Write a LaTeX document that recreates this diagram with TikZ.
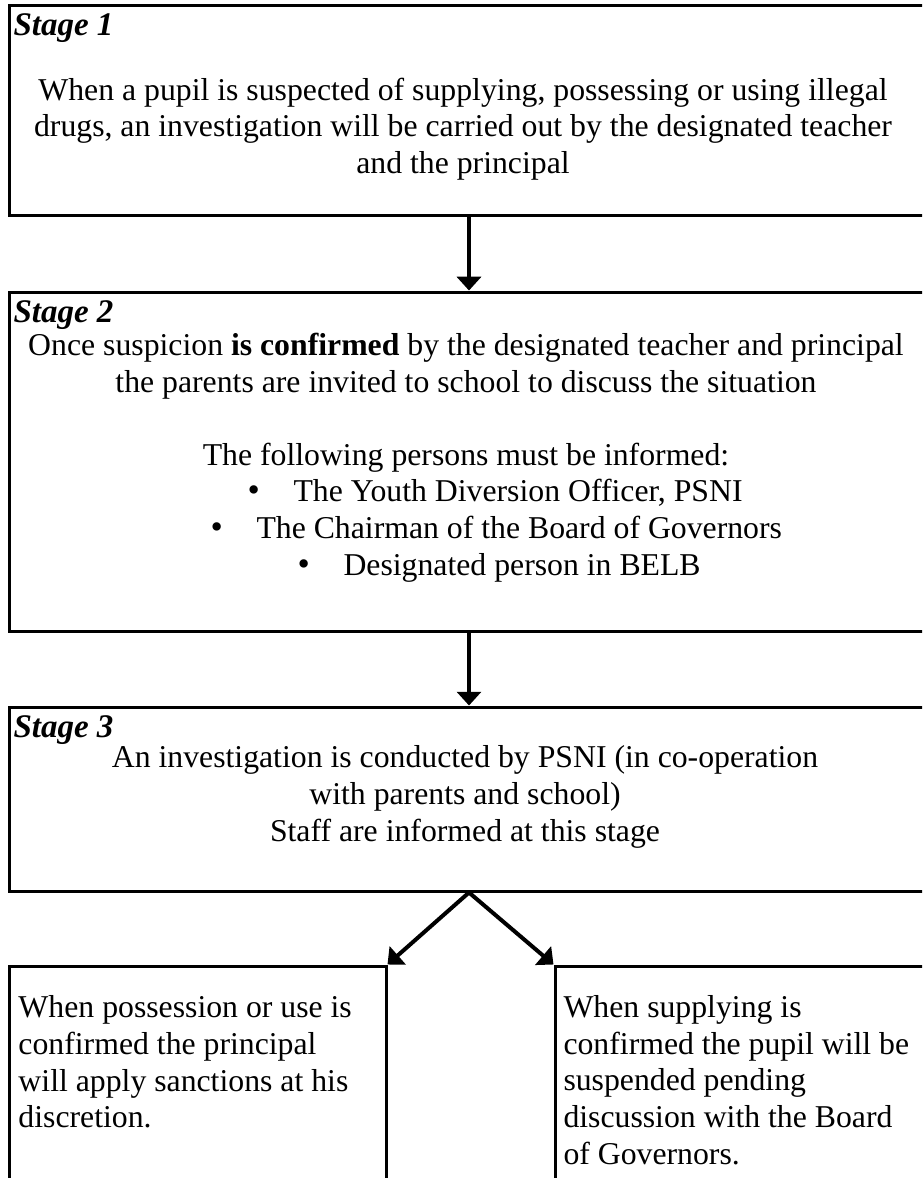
\documentclass[tikz,border=0pt]{standalone}
\usepackage{fontspec}
\setmainfont{Liberation Serif}
\usetikzlibrary{fit,arrows.meta}

\newcommand{\itm}[1]{\makebox[18.4pt][l]{\fontsize{14}{14}\selectfont\textbullet}#1}

\begin{document}
\begin{tikzpicture}[x=0.4pt,y=-0.4pt,
    box/.style={draw,line width=1.2pt,inner sep=0pt},
    txt/.style={inner sep=0pt,font=\fontsize{12.7}{14.7}\selectfont},
    stage/.style={inner sep=0pt,anchor=base west,
        font=\fontsize{13.2}{14.7}\selectfont\bfseries\itshape},
    flow/.style={line width=1.6pt,-{Triangle[width=9.6pt,length=5.5pt]}}]
    \useasboundingbox (0,0) rectangle (922,1178);
    \clip (0,0) rectangle (922,1178);
    % Stage 1
    \node[box,fit={(9,6) (929,216)}] (s1) {};
    \node[stage] (s1lab) at (13,36) {Stage 1};
    \node[txt,align=center] (s1txt) at (463,129)
        {When a pupil is suspected of supplying, possessing or using illegal\\
         drugs, an investigation will be carried out by the designated teacher\\
         and the principal};
    % Stage 2
    \node[box,fit={(9,292) (929,631)}] (s2) {};
    \node[stage] (s2lab) at (13,322) {Stage 2};
    \node[txt,align=center] (s2txt) at (466,403)
        {Once suspicion \textbf{is confirmed} by the designated teacher and principal\\
         the parents are invited to school to discuss the situation\\[14.7pt]
         The following persons must be informed:};
    \node[txt,anchor=base west] (p1) at (247,501) {\itm{The Youth Diversion Officer, PSNI}};
    \node[txt,anchor=base west] (p2) at (210,538) {\itm{The Chairman of the Board of Governors}};
    \node[txt,anchor=base west] (p3) at (297,575) {\itm{Designated person in BELB}};
    % Stage 3
    \node[box,fit={(9,707) (929,891)}] (s3) {};
    \node[stage] (s3lab) at (13,737) {Stage 3};
    \node[txt,align=center] (s3txt) at (465,797)
        {An investigation is conducted by PSNI (in co-operation\\
         with parents and school)\\
         Staff are informed at this stage};
    % Outcomes
    \node[box,fit={(9,966) (386,1200)}] (use) {};
    \node[txt,align=left,anchor=west] (usetxt) at (18,1062)
        {When possession or use is\\
         confirmed the principal\\
         will apply sanctions at his\\
         discretion.};
    \node[box,fit={(555,966) (940,1200)}] (supply) {};
    \node[txt,align=left,anchor=west] (supplytxt) at (563,1080)
        {When supplying is\\
         confirmed the pupil will be\\
         suspended pending\\
         discussion with the Board\\
         of Governors.};
    % Arrows
    \draw[flow] (s1) -- (s2);
    \draw[flow] (s2) -- (s3);
    \draw[flow] (s3.south) -- (use.north east);
    \draw[flow] (s3.south) -- (supply.north west);
\end{tikzpicture}
\end{document}
